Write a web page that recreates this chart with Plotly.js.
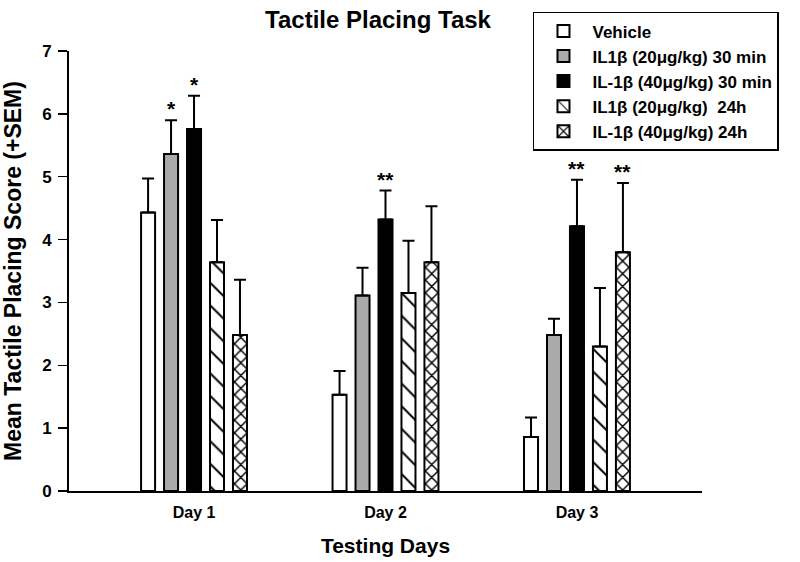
<!DOCTYPE html>
<html>
<head>
<meta charset="utf-8">
<script src="https://cdn.plot.ly/plotly-3.0.1.min.js"></script>
<style>html,body{margin:0;padding:0;background:#fff;}#chart{width:800px;height:562px;}</style>
</head>
<body>
<div id="chart"></div>
<script>
const categories = ['Day 1', 'Day 2', 'Day 3'];
const seriesNames = ['Vehicle', 'IL1β (20μg/kg) 30 min', 'IL-1β (40μg/kg) 30 min', 'IL1β (20μg/kg)  24h', 'IL-1β (40μg/kg) 24h'];
const vehicle = [4.43, 1.53, 0.86];
const vehicleSem = [0.54, 0.38, 0.31];
const il20min30 = [5.36, 3.11, 2.48];
const il20min30Sem = [0.54, 0.44, 0.26];
const il40min30 = [5.76, 4.32, 4.21];
const il40min30Sem = [0.53, 0.46, 0.74];
const il20h24 = [3.64, 3.15, 2.30];
const il20h24Sem = [0.67, 0.83, 0.93];
const il40h24 = [2.48, 3.64, 3.80];
const il40h24Sem = [0.88, 0.89, 1.10];
const vehicleSig = ['', '', ''];
const il20min30Sig = ['*', '', ''];
const il40min30Sig = ['*', '**', '**'];
const il20h24Sig = ['', '', ''];
const il40h24Sig = ['', '', '**'];

const values = [vehicle, il20min30, il40min30, il20h24, il40h24];
const sems = [vehicleSem, il20min30Sem, il40min30Sem, il20h24Sem, il40h24Sem];
const sigs = [vehicleSig, il20min30Sig, il40min30Sig, il20h24Sig, il40h24Sig];
const fills = ['#ffffff', '#aaaaaa', '#000000', '#ffffff', '#ffffff'];
const patterns = ['', '', '', '\\', 'x'];
const patternSizes = [0, 0, 0, 16, 9];
const patternSolidity = [0, 0, 0, 0.12, 0.3];

const FONT = 'Arial, "Liberation Sans", sans-serif';
const bargap = 0.4;
const nSeries = seriesNames.length;
const slot = (1 - bargap) / nSeries;
const xIdx = categories.map((c, i) => i);

const traces = seriesNames.map((name, s) => ({
  type: 'bar',
  name: name,
  x: xIdx,
  y: values[s],
  marker: {
    color: fills[s],
    line: {color: '#000', width: 2},
    pattern: patterns[s] ? {shape: patterns[s], fgcolor: '#000', bgcolor: '#fff', size: patternSizes[s], solidity: patternSolidity[s], fillmode: 'replace'} : undefined
  },
  error_y: {type: 'data', symmetric: false, array: sems[s], arrayminus: values[s].map(() => 0), color: '#000', thickness: 2, width: 6},
  hoverinfo: 'skip'
}));

const annotations = [];
sigs.forEach((sg, s) => {
  sg.forEach((t, i) => {
    if (!t) return;
    annotations.push({
      x: i + (s - (nSeries - 1) / 2) * slot,
      y: values[s][i] + sems[s][i],
      xref: 'x', yref: 'y',
      text: t, showarrow: false,
      yanchor: 'bottom', yshift: -2,
      font: {family: FONT, size: 21, color: '#000', weight: 'bold'}
    });
  });
});

const layout = {
  width: 800, height: 562,
  paper_bgcolor: '#fff', plot_bgcolor: '#fff',
  margin: {l: 69, r: 98, t: 51, b: 71},
  barmode: 'group', bargap: bargap, bargroupgap: 0.39,
  showlegend: true,
  title: {text: 'Tactile Placing Task', x: 0.4725, xanchor: 'center', y: 0.965, yanchor: 'middle',
          font: {family: FONT, size: 24, color: '#000', weight: 'bold'}},
  xaxis: {
    range: [-0.653, 2.653], tickvals: xIdx, ticktext: categories,
    showline: true, linecolor: '#000', linewidth: 2, ticks: '', showgrid: false, zeroline: false,
    ticklabelstandoff: 6,
    tickfont: {family: FONT, size: 16, color: '#000', weight: 'bold'},
    title: {text: 'Testing Days', standoff: 18, font: {family: FONT, size: 21, color: '#000', weight: 'bold'}}
  },
  yaxis: {
    range: [0, 7], dtick: 1, tick0: 0,
    showline: true, linecolor: '#000', linewidth: 2, ticks: 'outside', ticklen: 9, tickwidth: 1.5, tickcolor: '#000',
    ticklabelstandoff: 3,
    showgrid: false, zeroline: false,
    tickfont: {family: FONT, size: 17, color: '#000', weight: 'bold'},
    title: {text: 'Mean Tactile Placing Score (+SEM)', standoff: 14, font: {family: FONT, size: 23, color: '#000', weight: 'bold'}}
  },
  legend: {
    x: 0.733, y: 1.089, xanchor: 'left', yanchor: 'top',
    bordercolor: '#000', borderwidth: 1.5, bgcolor: '#fff',
    font: {family: FONT, size: 17, color: '#000', weight: 'bold'},
    tracegroupgap: 0, itemwidth: 48
  },
  annotations: annotations
};

Plotly.newPlot('chart', traces, layout, {staticPlot: true, displayModeBar: false});
</script>
</body>
</html>
